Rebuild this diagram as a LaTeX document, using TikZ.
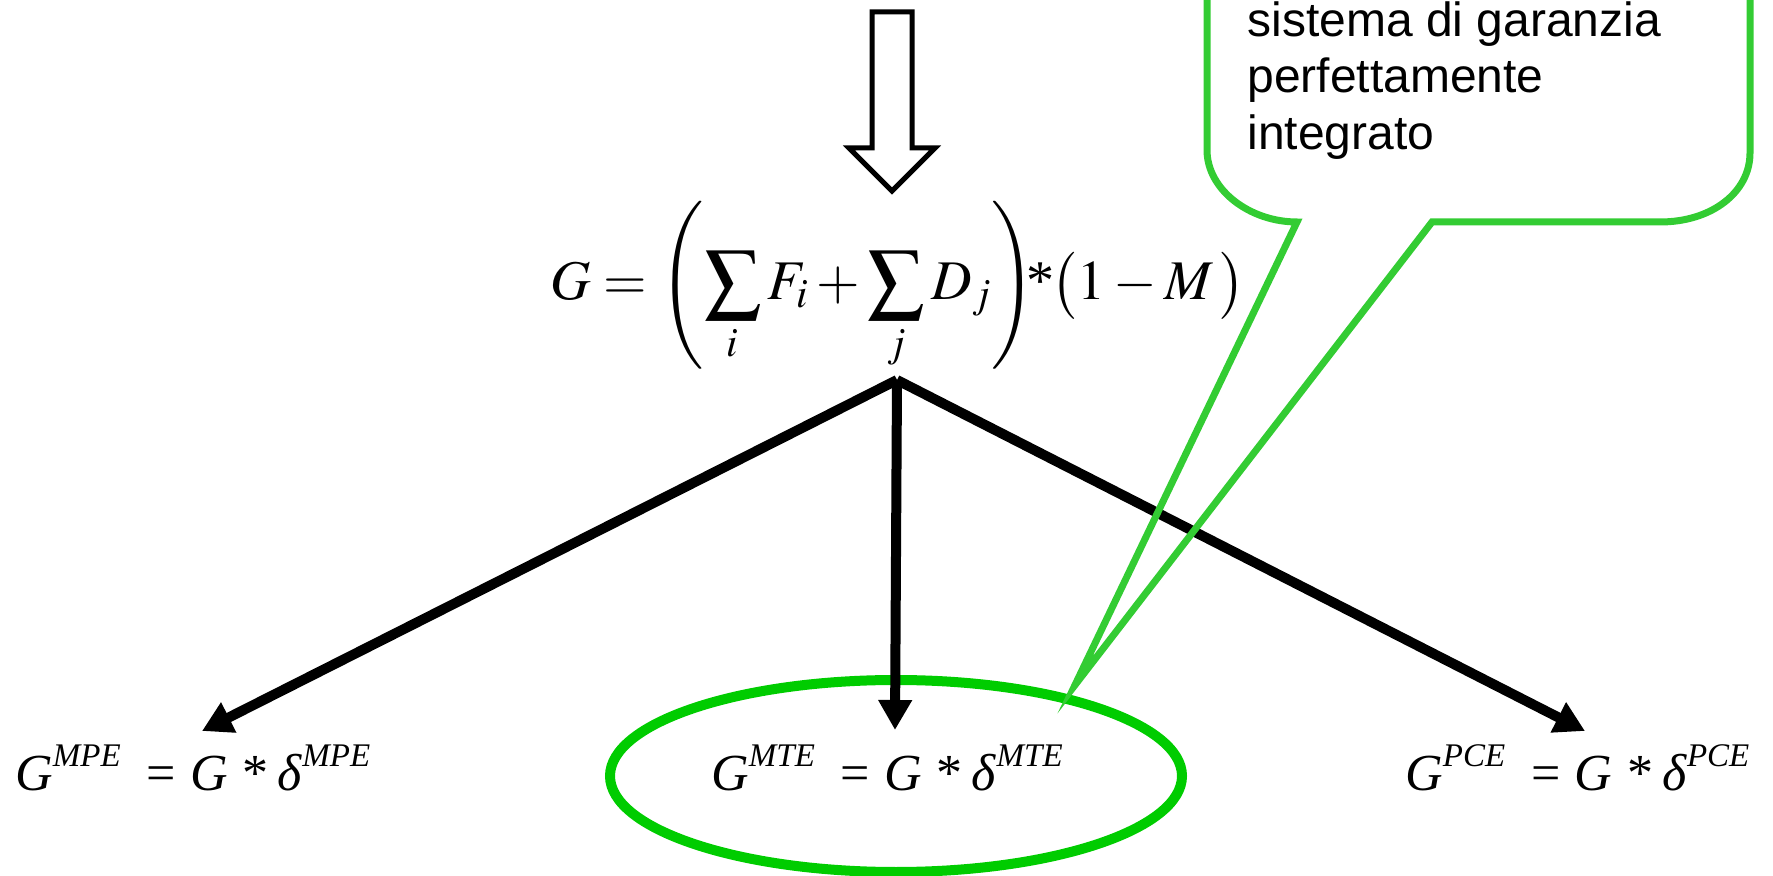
\documentclass[tikz,border=0pt]{standalone}
\usepackage{mathptmx}
\usepackage[no-math]{fontspec}
\newfontfamily\calloutfont{Liberation Sans}
\newfontfamily\tms{Liberation Serif}
\usetikzlibrary{arrows.meta}
\definecolor{ellgreen}{RGB}{0,204,0}
\definecolor{callgreen}{RGB}{51,204,51}
\newcommand{\supx}[1]{\raisebox{12.5pt}{\fontsize{16.5}{19}\selectfont\itshape #1}}
\newcommand{\beq}[1]{\textit{G}\supx{#1}\hspace{13pt}=\hspace{7pt}\textit{G}\hspace{7.5pt}*\hspace{4.5pt}\textit{δ}\supx{#1}}
\begin{document}
\begin{tikzpicture}[x=0.5pt,y=-0.5pt,
  flow/.style={line width=5pt,-{Triangle[length=15pt,width=16pt]}},
  topeq/.style={inner sep=0pt,font=\fontsize{28}{34}\selectfont},
  boteq/.style={inner sep=0pt,anchor=base west,font=\tms\fontsize{26}{31}\selectfont},
  calltext/.style={inner sep=0pt,anchor=north west,align=left,font=\calloutfont\fontsize{24}{28.25}\selectfont}]
\useasboundingbox (0,0) rectangle (1773,876);
\clip (0,0) rectangle (1773,876);
% block arrow
\draw[line width=2.5pt,line join=miter,fill=white] (872,12) -- (912,12) -- (912,148) -- (935,148) -- (892,191) -- (849,148) -- (872,148) -- cycle;
% main equation
\node[topeq] (eq) at (898,286) {$\displaystyle G=\left(\sum_i F_i+\sum_j D_j\right)\mkern-5mu\mbox{\tms *}\mkern-1mu\bigl(1-M\,\bigr)$};
\coordinate (src) at (897,380);
% ellipse around middle result
\draw[ellgreen,line width=5pt] (896,776) ellipse [x radius=143pt,y radius=48pt];
% results
\node[boteq] (mpe) at (15,791) {\beq{MPE}};
\node[boteq] (mte) at (711,791) {\beq{MTE}};
\node[boteq] (pce) at (1405,791) {\beq{PCE}};
\coordinate (tl) at (202,731);
\coordinate (tm) at (895,730);
\coordinate (tr) at (1585,731);
\draw[flow] (src) -- (tl);
\draw[flow] (src) -- (tm);
\draw[flow] (src) -- (tr);
% callout
\coordinate (tip) at (1075,685);
\draw[callgreen,line width=3.5pt,line join=miter] (1207,-20) -- (1207,150) .. controls (1207,190) and (1250,222) .. (1297,222) -- (tip) -- (1432,222) -- (1660,222) .. controls (1712,222) and (1750,192) .. (1750,153) -- (1750,-20);
\node[calltext] (note) at (1247,1) {sistema di garanzia\\perfettamente\\integrato};
\end{tikzpicture}
\end{document}
